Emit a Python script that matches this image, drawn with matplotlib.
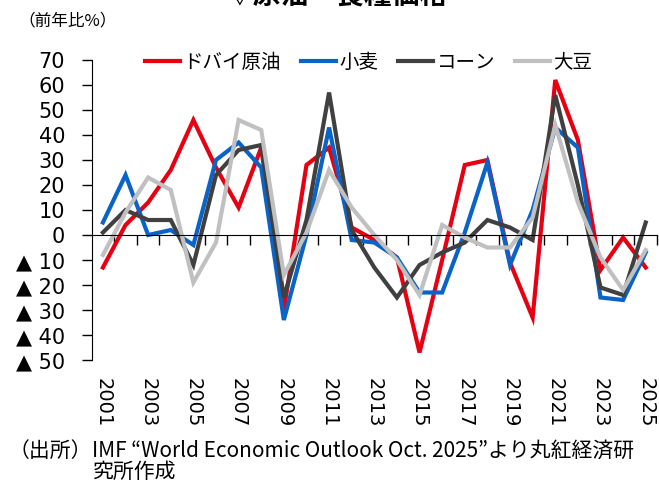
import matplotlib
matplotlib.use('Agg')
import matplotlib.pyplot as plt
from matplotlib.font_manager import FontProperties
import numpy as np

# data (前年比%)
years = list(range(2001, 2026))
dubai = [-13, 4, 13, 26, 46, 27, 11, 35, -30, 28, 35, 3, -2, -9, -47, -10, 28, 30, -11, -33, 62, 38, -14, -1, -13]
wheat = [5, 24, 0, 2, -4, 30, 37, 27, -34, 0, 43, -2, -3, -9, -23, -23, 1, 29, -12, 10, 43, 35, -25, -26, -7]
corn = [1, 10, 6, 6, -12, 24, 34, 36, -25, 6, 57, 2, -13, -25, -12, -7, -3, 6, 3, -2, 56, 20, -21, -24, 5]
soy = [-8, 9, 23, 18, -19, -3, 46, 42, -16, 1, 26, 11, 0, -10, -24, 4, -1, -5, -5, 7, 44, 13, -9, -22, -6]

series_names = ['ドバイ原油', '小麦', 'コーン', '大豆']
series_colors = ['#E60012', '#0A64C8', '#404040', '#C0C0C0']

y_ticks = [70, 60, 50, 40, 30, 20, 10, 0, -10, -20, -30, -40, -50]
y_labels = ['70', '60', '50', '40', '30', '20', '10', '0',
            '▲ 10', '▲ 20', '▲ 30', '▲ 40', '▲ 50']
label_years = years[::2]

cjk = ['Noto Sans CJK JP', 'DejaVu Sans']

fig = plt.figure(figsize=(6.59, 4.84), dpi=100)
ax = fig.add_axes([0.139, 0.2562, 0.858, 0.6198])

for vals, name, color in zip([dubai, wheat, corn, soy], series_names, series_colors):
    ax.plot(years, vals, color=color, lw=3, label=name, solid_joinstyle='miter')

ax.set_xlim(years[0] - 0.5, years[-1] + 0.5)
ax.set_ylim(-50, 70)
ax.set_yticks(y_ticks)
ax.set_yticklabels(y_labels, fontsize=15)
ax.tick_params(axis='y', direction='out', length=7, width=1, pad=12)

# zero line with ticks between years
ax.spines['bottom'].set_position(('data', 0))
ax.spines['top'].set_visible(False)
ax.spines['right'].set_visible(False)
ax.set_xticks(np.array(years) + 0.5)
ax.tick_params(axis='x', direction='out', length=7, width=1, labelbottom=False)

sec = ax.secondary_xaxis('bottom')
sec.set_xticks(label_years, labels=[str(y) for y in label_years])
sec.tick_params(length=0, pad=13, labelsize=14, labelrotation=-90)
sec.spines['bottom'].set_visible(False)

ax.legend(loc='center', bbox_to_anchor=(0.49, 0.993), ncol=4, frameon=False,
          prop=FontProperties(family=cjk, size=14), handlelength=1.8,
          handletextpad=0.2, columnspacing=1.0)

fig.text(336 / 659, 1 - 9 / 484, '▽原油・食糧価格', ha='center', va='bottom',
         fontsize=20, fontweight='bold', family=cjk)
fig.text(18 / 659, 1 - 21 / 484, '（前年比%）', ha='left', va='center',
         fontsize=12, family=cjk)
fig.text(92 / 659, 1 - 451 / 484, '（出所）', ha='right', va='center',
         fontsize=15, family=cjk)
fig.text(92 / 659, 1 - 451 / 484, 'IMF “World Economic Outlook Oct. 2025”より丸紅経済研',
         ha='left', va='center', fontsize=15, family=cjk)
fig.text(92 / 659, 1 - 472 / 484, '究所作成', ha='left', va='center',
         fontsize=15, family=cjk)

fig.savefig('out.png', dpi=100)
